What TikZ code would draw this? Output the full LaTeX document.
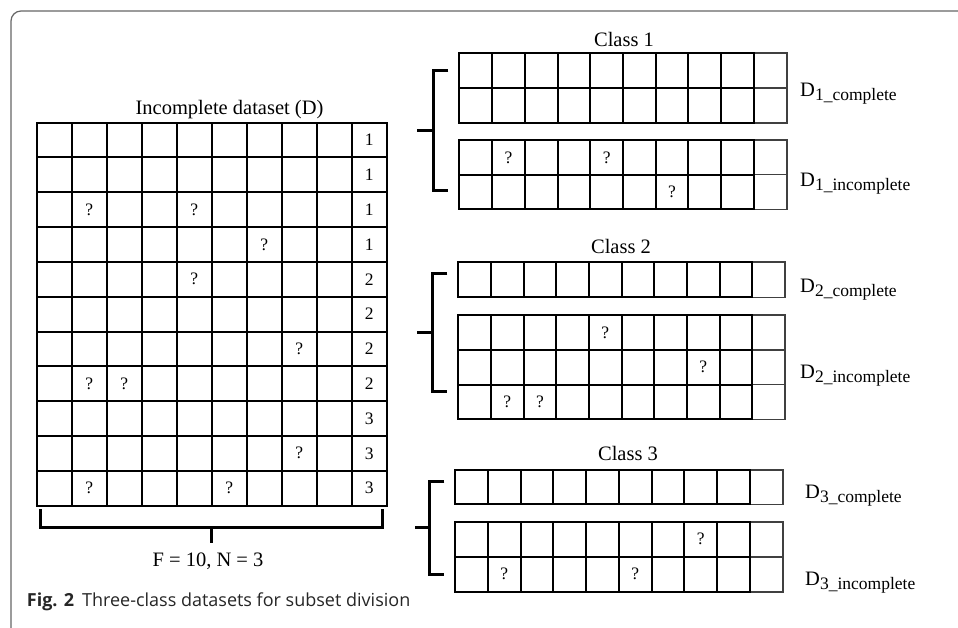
\documentclass[tikz,border=0pt]{standalone}
\usepackage{fontspec}
\setmainfont{Liberation Serif}
\newfontfamily\capfont{Open Sans}
\newcommand\dsub[1]{\raisebox{-4pt}{\fontsize{17.5}{17.5}\selectfont #1}}
\newcommand\drawtable[7]{%
 \pgfmathsetmacro\tabxl{#1+(#5-1)*#3}%
 \pgfmathsetmacro\tabxe{#1+#5*#3}%
 \pgfmathsetmacro\tabye{#2+#6*#4}%
 \foreach \r in {0,...,#6}{%
   \draw[#7] (\tabxl,{#2+\r*#4}) -- (\tabxe,{#2+\r*#4});
   \draw[gridline] (#1,{#2+\r*#4}) -- (\tabxl,{#2+\r*#4});}%
 \pgfmathtruncatemacro\tabnc{#5-1}%
 \foreach \c in {0,...,\tabnc}{\draw[gridline] ({#1+\c*#3},#2) -- ({#1+\c*#3},\tabye);}%
 \draw[#7] (\tabxe,#2) -- (\tabxe,\tabye);%
}
\begin{document}
\begin{tikzpicture}[x=1pt,y=-1pt,
  gridline/.style={line width=2pt, black, line cap=rect},
  thinline/.style={line width=1.6pt, black!75, line cap=rect},
  bracket/.style={line width=3pt, black},
  frame/.style={line width=1.2pt, black!60, rounded corners=10pt},
  celltext/.style={font=\fontsize{17.5}{17.5}\selectfont, inner sep=0pt},
  title/.style={font=\fontsize{20.5}{20.5}\selectfont, inner sep=0pt, anchor=base},
  dlabel/.style={font=\fontsize{20.5}{20.5}\selectfont, inner sep=0pt, anchor=base west},
]
\useasboundingbox (0,0) rectangle (958,628);
\fill[white] (0,0) rectangle (958,628);
% frame
\draw[frame] (11,640) -- (11,11) -- (975,11);

% ---------- left dataset ----------
\node[title] (tD) at (229.5,115) {Incomplete dataset (D)};
\drawtable{36.7}{122.7}{35}{34.8}{10}{11}{gridline}
\foreach \r/\v in {1/1,2/1,3/1,4/1,5/2,6/2,7/2,8/2,9/3,10/3,11/3}
  \node[celltext] (lab\r) at (369.2,{122.7+(\r-0.5)*34.8}) {\v};
\foreach \r/\c [count=\k] in {3/2,3/5,4/7,5/5,7/8,8/2,8/3,10/8,11/2,11/6}
  \node[celltext] (lq\k) at ({36.7+(\c-0.5)*35},{122.7+(\r-0.5)*34.8}) {?};
\draw[bracket] (40,509) -- (40,527.5) -- (382.7,527.5) -- (382.7,509);
\draw[bracket] (211,527.5) -- (211,542.7);
\node[title] (fn) at (208,566.7) {F = 10, N = 3};

% ---------- class 1 ----------
\node[title] (c1) at (624,46.7) {Class 1};
\drawtable{459.3}{53.3}{32.74}{35}{10}{2}{thinline}
\drawtable{459.3}{140}{32.74}{34.7}{10}{2}{thinline}
\foreach \r/\c [count=\k] in {1/2,1/5,2/7}
  \node[celltext] (aq\k) at ({459.3+(\c-0.5)*32.74},{140+(\r-0.5)*34.7}) {?};
\draw[bracket] (448.3,70.7) -- (433.3,70.7) -- (433.3,190.7) -- (448.3,190.7);
\draw[bracket] (417.3,130.7) -- (433.3,130.7);
\node[dlabel] (d1c) at (800,97) {D\dsub{1\_complete}};
\node[dlabel] (d1i) at (800,187) {D\dsub{1\_incomplete}};

% ---------- class 2 ----------
\node[title] (c2) at (621,253.3) {Class 2};
\drawtable{458.3}{262.3}{32.67}{35}{10}{1}{thinline}
\drawtable{458.3}{315}{32.67}{34.8}{10}{3}{thinline}
\foreach \r/\c [count=\k] in {1/5,2/8,3/2,3/3}
  \node[celltext] (bq\k) at ({458.3+(\c-0.5)*32.67},{315+(\r-0.5)*34.8}) {?};
\draw[bracket] (447.3,273.3) -- (432.3,273.3) -- (432.3,391.7) -- (447.3,391.7);
\draw[bracket] (417.3,332.5) -- (432.3,332.5);
\node[dlabel] (d2c) at (800,292.7) {D\dsub{2\_complete}};
\node[dlabel] (d2i) at (800,378.3) {D\dsub{2\_incomplete}};

% ---------- class 3 ----------
\node[title] (c3) at (628,460) {Class 3};
\drawtable{455}{470}{32.77}{34.3}{10}{1}{thinline}
\drawtable{455}{521.7}{32.77}{35}{10}{2}{thinline}
\foreach \r/\c [count=\k] in {1/8,2/2,2/6}
  \node[celltext] (cq\k) at ({455+(\c-0.5)*32.77},{521.7+(\r-0.5)*35}) {?};
\draw[bracket] (444.3,481) -- (429.3,481) -- (429.3,574.3) -- (444.3,574.3);
\draw[bracket] (415,527.7) -- (429.3,527.7);
\node[dlabel] (d3c) at (805,498.3) {D\dsub{3\_complete}};
\node[dlabel] (d3i) at (805,585.7) {D\dsub{3\_incomplete}};

% ---------- caption ----------
\node[font=\capfont\fontsize{18}{18}\selectfont, anchor=base west, inner sep=0pt, text=black!85] (cap)
  at (26.7,606.7) {\textbf{Fig. 2}\hspace{8pt}Three-class datasets for subset division};
\end{tikzpicture}
\end{document}
